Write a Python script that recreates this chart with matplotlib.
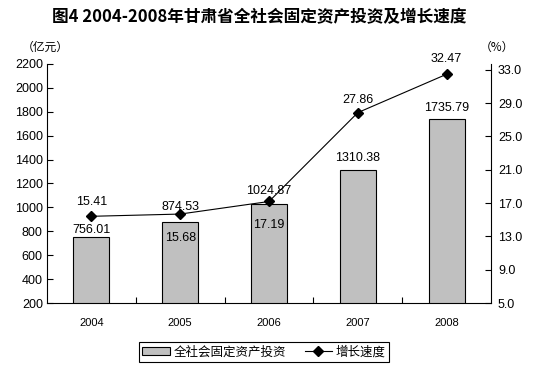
import matplotlib
matplotlib.use("Agg")
import matplotlib.pyplot as plt
from matplotlib.patches import Patch
from matplotlib.lines import Line2D

plt.rcParams['font.family'] = ['Liberation Sans', 'Noto Sans CJK SC', 'DejaVu Sans']

years = ['2004', '2005', '2006', '2007', '2008']
investment = [756.01, 874.53, 1024.87, 1310.38, 1735.79]
growth = [15.41, 15.68, 17.19, 27.86, 32.47]
left_ticks = [200, 400, 600, 800, 1000, 1200, 1400, 1600, 1800, 2000, 2200]
right_ticks = [5.0, 9.0, 13.0, 17.0, 21.0, 25.0, 29.0, 33.0]

title = '图4 2004-2008年甘肃省全社会固定资产投资及增长速度'
series_names = ['全社会固定资产投资', '增长速度']

# label offsets in points (layout only)
bar_label_off = [5, 11, 10, 9, 8]
line_label_off = [10, -17, -17, 9, 11]

fig = plt.figure(figsize=(5.35, 3.68), dpi=100)
ax = fig.add_axes([47/535, (368-303)/368, (491-47)/535, (303-64)/368])
ax2 = ax.twinx()

x = list(range(len(years)))
ax.bar(x, investment, width=0.405, color='#C0C0C0', edgecolor='black', linewidth=0.8, zorder=2)
ax.set_xlim(-0.5, len(years) - 0.5)
ax.set_ylim(200, 2200)
ax.set_yticks(left_ticks)
ax.set_yticklabels([str(t) for t in left_ticks])
ax.set_xticks(x)
ax.set_xticklabels(years)
ax.set_xticks([i + 0.5 for i in x[:-1]], minor=True)
ax.tick_params(axis='x', which='major', length=0, pad=11, labelsize=8)
ax.tick_params(axis='x', which='minor', direction='in', length=4, width=0.8)
ax.tick_params(axis='y', direction='in', length=4, width=0.8, labelsize=9, pad=3)

ax2.plot(x, growth, color='black', linewidth=0.8, marker='D', markersize=5.5, zorder=3)
ax2.set_ylim(5, 33.7)
ax2.set_yticks(right_ticks)
ax2.set_yticklabels(['%.1f' % t for t in right_ticks])
ax2.tick_params(axis='y', direction='in', length=4, width=0.8, labelsize=9, pad=5)

for a in (ax, ax2):
    a.spines['top'].set_visible(False)
    for s in a.spines.values():
        s.set_linewidth(0.8)
ax.spines['right'].set_visible(False)
ax2.spines['left'].set_visible(False)
ax2.spines['bottom'].set_visible(False)

for i, v in enumerate(investment):
    ax.annotate('%.2f' % v, (i, v), xytext=(0, bar_label_off[i]), textcoords='offset points',
                ha='center', va='center', fontsize=9)
for i, v in enumerate(growth):
    ax2.annotate('%.2f' % v, (i, v), xytext=(0, line_label_off[i]), textcoords='offset points',
                 ha='center', va='center', fontsize=9)

fig.text(259/535, 1 - 17/368, title, ha='center', va='center', fontsize=12,
         fontweight='bold', family=['Noto Sans CJK SC', 'DejaVu Sans'])
fig.text(45/535, 1 - 47/368, '（亿元）', ha='center', va='center', fontsize=8.5,
         family=['Noto Sans CJK SC', 'DejaVu Sans'])
fig.text(497/535, 1 - 47/368, '（%）', ha='center', va='center', fontsize=8.5,
         family=['Noto Sans CJK SC', 'DejaVu Sans'])

handles = [Patch(facecolor='#C0C0C0', edgecolor='black', linewidth=0.8),
           Line2D([0], [0], color='black', linewidth=0.8, marker='D', markersize=5)]
leg = fig.legend(handles, series_names, loc='center', bbox_to_anchor=(264/535, 1 - 352/368),
                 ncol=2, frameon=True, fancybox=False, edgecolor='black', framealpha=1,
                 prop={'family': ['Noto Sans CJK SC', 'DejaVu Sans'], 'size': 9},
                 handlelength=2.2, handleheight=0.6, handletextpad=0.3, columnspacing=1.5,
                 borderpad=0.25, borderaxespad=0)
leg.get_frame().set_linewidth(0.8)

fig.savefig('out.png', dpi=100)
